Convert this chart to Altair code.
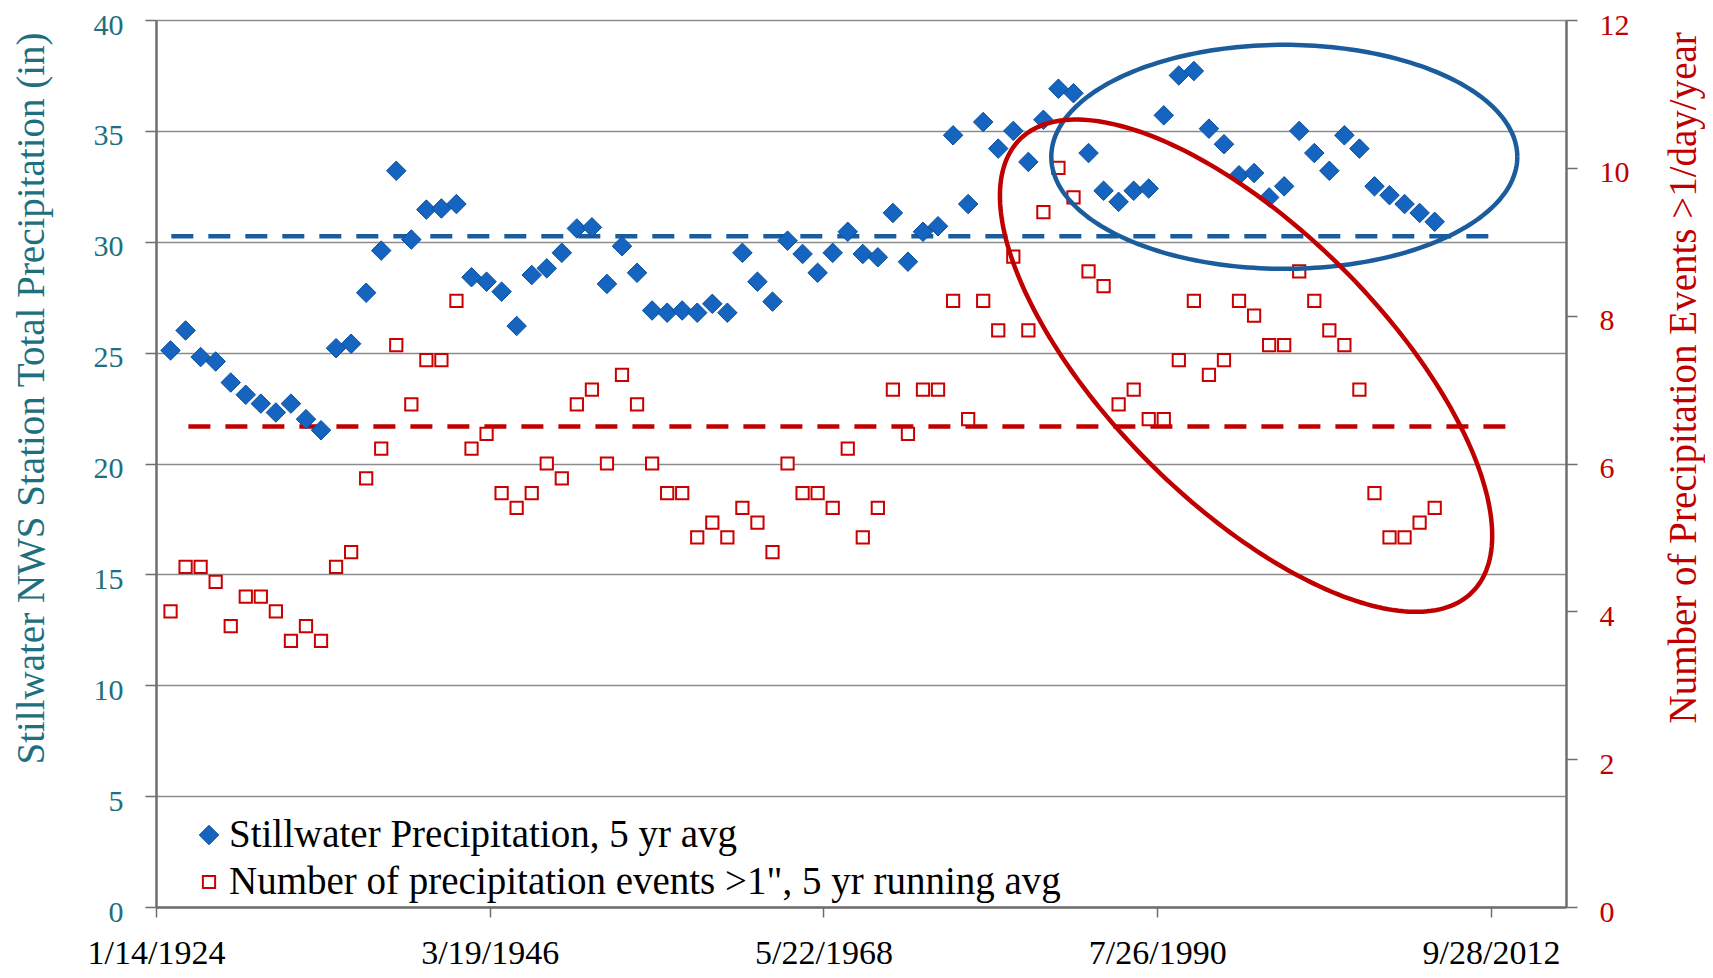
import math
import numpy as np
import pandas as pd
import altair as alt

# ---------------- data ----------------
years = list(range(1925, 2010))  # one value per year, plotted at Jan 1

precip_5yr = [
    25.1, 26.0, 24.8, 24.6, 23.65, 23.1, 22.7, 22.3, 22.7, 22.0,
    21.5, 25.2, 25.4, 27.7, 29.6, 33.2, 30.1, 31.45, 31.5, 31.7,
    28.4, 28.2, 27.75, 26.2, 28.5, 28.8, 29.5, 30.6, 30.65, 28.1,
    29.8, 28.6, 26.9, 26.8, 26.9, 26.8, 27.2, 26.8, 29.5, 28.2,
    27.3, 30.05, 29.45, 28.6, 29.5, 30.45, 29.45, 29.3, 31.3, 29.1,
    30.45, 30.7, 34.8, 31.7, 35.4, 34.2, 35.0, 33.6, 35.5, 36.9,
    36.7, 34.0, 32.3, 31.8, 32.3, 32.4, 35.7, 37.5, 37.7, 35.1,
    34.4, 33.0, 33.1, 32.0, 32.5, 35.0, 34.0, 33.2, 34.8, 34.2,
    32.5, 32.1, 31.7, 31.3, 30.9,
]

events_5yr = [
    4.0, 4.6, 4.6, 4.4, 3.8, 4.2, 4.2, 4.0, 3.6, 3.8,
    3.6, 4.6, 4.8, 5.8, 6.2, 7.6, 6.8, 7.4, 7.4, 8.2,
    6.2, 6.4, 5.6, 5.4, 5.6, 6.0, 5.8, 6.8, 7.0, 6.0,
    7.2, 6.8, 6.0, 5.6, 5.6, 5.0, 5.2, 5.0, 5.4, 5.2,
    4.8, 6.0, 5.6, 5.6, 5.4, 6.2, 5.0, 5.4, 7.0, 6.4,
    7.0, 7.0, 8.2, 6.6, 8.2, 7.8, 8.8, 7.8, 9.4, 10.0,
    9.6, 8.6, 8.4, 6.8, 7.0, 6.6, 6.6, 7.4, 8.2, 7.2,
    7.4, 8.2, 8.0, 7.6, 7.6, 8.6, 8.2, 7.8, 7.6, 7.0,
    5.6, 5.0, 5.0, 5.2, 5.4,
]

series_names = [
    "Stillwater Precipitation, 5 yr avg",
    'Number of precipitation events >1", 5 yr running avg',
]

# long-term average lines (value, start, end)
precip_mean = 30.25
precip_mean_span = ["1925-01-20", "2013-04-20"]
events_mean = 6.5
events_mean_span = ["1926-03-10", "2014-04-20"]

x_tick_dates = ["1924-01-14", "1946-03-19", "1968-05-22", "1990-07-26", "2012-09-28"]
left_ticks = [0, 5, 10, 15, 20, 25, 30, 35, 40]
right_ticks = [0, 2, 4, 6, 8, 10, 12]

# highlight ellipses: centre (date, inches), semi-axes in pixels, rotation (deg)
ellipse_specs = [
    {"name": "blue", "center": "1999-01-04", "cy": 33.83, "a": 233, "b": 112, "rot": 0},
    {"name": "red", "center": "1996-06-20", "cy": 24.41, "a": 320, "b": 137, "rot": 45},
]

# ---------------- geometry ----------------
W, H = 1410, 887
FONT = "Liberation Serif"
BLUE_FILL = "#1565C0"
BLUE_EDGE = "#0B4F9A"
BLUE_LINE = "#1A5C9C"
RED = "#C00000"
TEAL = "#1E6F80"
GRID = "#8C8C8C"
AXIS = "#6E6E6E"

t0 = pd.Timestamp("1924-01-14", tz="UTC").value / 1e6
t1 = pd.Timestamp("2017-09-23", tz="UTC").value / 1e6
px_per_ms = W / (t1 - t0)
px_per_in = H / 40.0

ell_rows = []
for spec in ellipse_specs:
    cx = pd.Timestamp(spec["center"], tz="UTC").value / 1e6
    th = math.radians(spec["rot"])
    for i, t in enumerate(np.linspace(0, 2 * math.pi, 241)):
        dx = spec["a"] * math.cos(t) * math.cos(th) - spec["b"] * math.sin(t) * math.sin(th)
        dy = spec["a"] * math.cos(t) * math.sin(th) + spec["b"] * math.sin(t) * math.cos(th)
        ell_rows.append({
            "name": spec["name"],
            "i": i,
            "t": cx + dx / px_per_ms,
            "v": spec["cy"] - dy / px_per_in,
        })
ell_df = pd.DataFrame(ell_rows)

dates = [f"{y}-01-01" for y in years]
blue_df = pd.DataFrame({"date": dates, "value": precip_5yr, "series": series_names[0]})
red_df = pd.DataFrame({"date": dates, "value": events_5yr, "series": series_names[1]})
blue_mean_df = pd.DataFrame({"start": [precip_mean_span[0]], "end": [precip_mean_span[1]], "value": [precip_mean]})
red_mean_df = pd.DataFrame({"start": [events_mean_span[0]], "end": [events_mean_span[1]], "value": [events_mean]})
legend_df = pd.DataFrame({"series": series_names, "row": [0, 1]})

x_scale = alt.Scale(type="utc", domain=[
    alt.DateTime(year=1924, month=1, date=14, utc=True),
    alt.DateTime(year=2017, month=9, date=23, utc=True),
])
x_vals = [alt.DateTime(year=int(d[:4]), month=int(d[5:7]), date=int(d[8:10]), utc=True) for d in x_tick_dates]

x_axis = alt.Axis(
    values=x_vals, format="%-m/%-d/%Y", title=None, grid=False,
    labelFont=FONT, labelFontSize=34, labelColor="black", labelPadding=19,
    labelBaseline="top", labelFlush=False,
    domainColor=AXIS, domainWidth=2.5, tickColor=AXIS, tickWidth=1.5, tickSize=10,
)

left_scale = alt.Scale(domain=[0, 40], nice=False, zero=True)
right_scale = alt.Scale(domain=[0, 12], nice=False, zero=True)

left_axis = alt.Axis(
    values=left_ticks, orient="left", title="Stillwater NWS Station Total Precipitation (in)",
    titleFont=FONT, titleFontSize=39, titleFontWeight="normal", titleColor=TEAL,
    titleAngle=270, titleAlign="left", titleBaseline="middle", titleX=-125, titleY=744,
    labelFont=FONT, labelFontSize=30, labelColor=TEAL, labelPadding=22, labelOffset=5,
    grid=True, gridColor=GRID, gridWidth=1.5,
    domainColor=AXIS, domainWidth=2.5, tickColor=AXIS, tickWidth=1.5, tickSize=11,
)
right_axis = alt.Axis(
    values=right_ticks, orient="right", title="Number of Precipitation Events >1/day/year",
    titleFont=FONT, titleFontSize=39, titleFontWeight="normal", titleColor=RED,
    titleAngle=270, titleAlign="left", titleBaseline="middle", titleX=117, titleY=703,
    labelFont=FONT, labelFontSize=30, labelColor=RED, labelPadding=22, labelOffset=5,
    grid=False,
    domainColor=AXIS, domainWidth=2.5, tickColor=AXIS, tickWidth=1.5, tickSize=11,
)

shape_enc = alt.Shape("series:N", scale=alt.Scale(domain=series_names, range=["diamond", "square"]), legend=None)
fill_enc = alt.Fill("series:N", scale=alt.Scale(domain=series_names, range=[BLUE_FILL, "white"]), legend=None)
stroke_enc = alt.Stroke("series:N", scale=alt.Scale(domain=series_names, range=[BLUE_EDGE, "#CC0000"]), legend=None)
sw_enc = alt.StrokeWidth("series:N", scale=alt.Scale(domain=series_names, range=[1, 2]), legend=None)
size_enc = alt.Size("series:N", scale=alt.Scale(domain=series_names, range=[380, 150]), legend=None)

# ---------------- layers (flat, every layer has its own fixed y scale) ----------------
blue_mean = alt.Chart(blue_mean_df).mark_rule(color=BLUE_LINE, strokeWidth=4.5, strokeDash=[22, 15]).encode(
    x=alt.X("start:T", scale=x_scale, axis=x_axis),
    x2="end:T",
    y=alt.Y("value:Q", scale=left_scale, axis=left_axis),
)
red_mean = alt.Chart(red_mean_df).mark_rule(color=RED, strokeWidth=4.5, strokeDash=[22, 15]).encode(
    x=alt.X("start:T", scale=x_scale, axis=x_axis),
    x2="end:T",
    y=alt.Y("value:Q", scale=right_scale, axis=right_axis),
)
blue_pts = alt.Chart(blue_df).mark_point(opacity=1).encode(
    x=alt.X("date:T", scale=x_scale, axis=x_axis),
    y=alt.Y("value:Q", scale=left_scale, axis=None),
    shape=shape_enc, fill=fill_enc, stroke=stroke_enc, strokeWidth=sw_enc, size=size_enc,
)
red_pts = alt.Chart(red_df).mark_point(opacity=1).encode(
    x=alt.X("date:T", scale=x_scale, axis=x_axis),
    y=alt.Y("value:Q", scale=right_scale, axis=None),
    shape=shape_enc, fill=fill_enc, stroke=stroke_enc, strokeWidth=sw_enc, size=size_enc,
)
ellipses = alt.Chart(ell_df).mark_line(strokeWidth=4.5).encode(
    x=alt.X("t:T", scale=x_scale, axis=x_axis),
    y=alt.Y("v:Q", scale=left_scale, axis=None),
    detail="name:N",
    order="i:Q",
    color=alt.Color("name:N", scale=alt.Scale(domain=["blue", "red"], range=[BLUE_LINE, RED]), legend=None),
)

# legend (inside the plot, bottom-left), drawn from the series names
legend_row = alt.Y("row:Q", scale=alt.Scale(domain=[0, 1], range=[815, 862]), axis=None)
legend_sym = alt.Chart(legend_df).mark_point(opacity=1).encode(
    x=alt.value(53), y=legend_row,
    shape=shape_enc, fill=fill_enc, stroke=stroke_enc, strokeWidth=sw_enc,
    size=alt.Size("series:N", scale=alt.Scale(domain=series_names, range=[380, 150]), legend=None),
)
legend_txt = alt.Chart(legend_df).mark_text(
    align="left", baseline="middle", font=FONT, fontSize=39, color="black",
).encode(x=alt.value(73), y=legend_row, text="series:N")

chart = (
    alt.layer(blue_mean, red_mean, blue_pts, red_pts, ellipses, legend_sym, legend_txt)
    .resolve_scale(y="independent")
    .properties(
        width=W, height=H,
        autosize=alt.AutoSizeParams(type="none"),
        padding={"left": 148, "top": 12, "right": 139, "bottom": 63},
        background="white",
    )
    .configure_view(stroke=None)
)

chart.save("out.html", embed_options={"renderer": "svg", "actions": False})
